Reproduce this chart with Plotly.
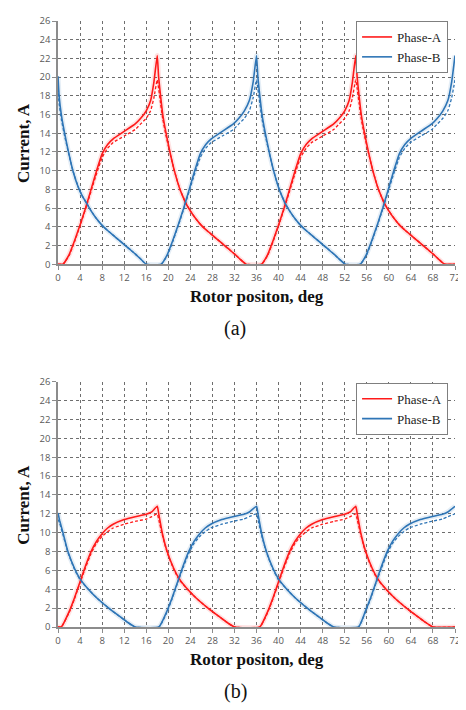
import plotly.graph_objects as go

# ---------------- data ----------------
# (a) top chart
TOP_A_X = [0, 0.9, 2, 3, 4, 5, 6, 7, 8, 9, 10, 12, 14, 15, 16, 16.8, 17.4, 18, 18.25, 18.6, 19.0, 19.6, 20.3, 21.1,
           22.0, 22.6, 23.2, 24, 25, 26, 27, 28, 29, 30, 31, 32, 33, 34.1,
           36.9, 38, 39, 40, 41, 42, 43, 44, 45, 46, 48, 50, 51, 52, 52.8, 53.4, 54, 54.25, 54.6, 55.0, 55.6, 56.3,
           57.1, 58.0, 58.6, 59.2, 60, 61, 62, 63, 64, 65, 66, 67, 68, 69, 70.1, 72]
TOP_A_SOLID = [0, 0, 1, 2.5, 4.2, 6, 8, 10, 11.8, 12.8, 13.4, 14.2, 15.0, 15.6, 16.4, 17.5, 19.5, 22.3, 20, 18, 16, 14, 12, 10,
               8.2, 7.3, 6.5, 5.7, 4.85, 4.15, 3.6, 3.1, 2.6, 2.1, 1.6, 1.1, 0.55, 0,
               0, 1, 2.5, 4.2, 6, 8, 10, 11.8, 12.8, 13.4, 14.2, 15.0, 15.6, 16.4, 17.5, 19.5, 22.3, 20, 18, 16, 14, 12,
               10, 8.2, 7.3, 6.5, 5.7, 4.85, 4.15, 3.6, 3.1, 2.6, 2.1, 1.6, 1.1, 0.55, 0, 0]
TOP_A_DASH = [0, 0, 0.9, 2.4, 4.1, 5.9, 7.8, 9.7, 11.4, 12.4, 13.0, 13.7, 14.4, 15.0, 15.6, 16.4, 17.8, 19.7, 18.8, 17.2, 15.5, 13.7, 11.9, 10,
              8.2, 7.3, 6.5, 5.7, 4.85, 4.15, 3.6, 3.1, 2.6, 2.1, 1.6, 1.1, 0.55, 0,
              0, 0.9, 2.4, 4.1, 5.9, 7.8, 9.7, 11.4, 12.4, 13.0, 13.7, 14.4, 15.0, 15.6, 16.4, 17.8, 19.7, 18.8, 17.2, 15.5, 13.7, 11.9,
              10, 8.2, 7.3, 6.5, 5.7, 4.85, 4.15, 3.6, 3.1, 2.6, 2.1, 1.6, 1.1, 0.55, 0, 0]

TOP_B_X = [0, 0.2, 0.6, 1.2, 1.9, 2.7, 3.7, 4.4, 5.2, 6, 7, 8, 9, 10, 11, 12, 13, 14, 15, 16,
           18.7, 19.8, 20.8, 21.8, 22.8, 23.8, 24.8, 25.8, 26.8, 27.8, 29.8, 31.8, 32.8, 33.8, 34.7, 35.4, 36,
           36.25, 36.6, 37.0, 37.6, 38.3, 39.1, 40.0, 40.6, 41.2, 42, 43, 44, 45, 46, 47, 48, 49, 50, 51, 52.1,
           54.8, 55.9, 56.9, 57.9, 58.9, 59.9, 60.9, 61.9, 62.9, 63.9, 65.8, 67.8, 68.8, 69.8, 70.7, 71.4, 72]
TOP_B_SOLID = [20.1, 18, 16, 14, 12, 10, 8.2, 7.3, 6.5, 5.7, 4.85, 4.15, 3.6, 3.1, 2.6, 2.1, 1.6, 1.1, 0.55, 0,
               0, 1, 2.5, 4.2, 6, 8, 10, 11.8, 12.8, 13.4, 14.2, 15.0, 15.6, 16.4, 17.5, 19.5, 22.3,
               20, 18, 16, 14, 12, 10, 8.2, 7.3, 6.5, 5.7, 4.85, 4.15, 3.6, 3.1, 2.6, 2.1, 1.6, 1.1, 0.55, 0,
               0, 1, 2.5, 4.2, 6, 8, 10, 11.8, 12.8, 13.4, 14.2, 15.0, 15.6, 16.4, 17.5, 19.5, 22.3]
TOP_B_DASH = [18.8, 17.2, 15.5, 13.7, 11.9, 10, 8.2, 7.3, 6.5, 5.7, 4.85, 4.15, 3.6, 3.1, 2.6, 2.1, 1.6, 1.1, 0.55, 0,
              0, 0.9, 2.4, 4.1, 5.9, 7.8, 9.7, 11.4, 12.4, 13.0, 13.7, 14.4, 15.0, 15.6, 16.4, 17.8, 19.7,
              18.8, 17.2, 15.5, 13.7, 11.9, 10, 8.2, 7.3, 6.5, 5.7, 4.85, 4.15, 3.6, 3.1, 2.6, 2.1, 1.6, 1.1, 0.55, 0,
              0, 0.9, 2.4, 4.1, 5.9, 7.8, 9.7, 11.4, 12.4, 13.0, 13.7, 14.4, 15.0, 15.6, 16.4, 17.8, 19.7]

# (b) bottom chart
BOT_A_X = [0, 0.6, 2, 3, 4, 5, 6, 7, 8, 9, 10, 12, 14, 16, 17, 18, 18.3, 18.9, 19.8, 21, 22, 23.5, 25, 27.2, 29, 30.5, 32,
           36.6, 38, 39, 40, 41, 42, 43, 44, 45, 46, 48, 50, 52, 53, 54, 54.3, 54.9, 55.8, 57, 58, 59.5, 61, 63.2, 65, 66.5, 68, 72]
BOT_A_SOLID = [0, 0, 1.6, 3.1, 4.8, 6.5, 8, 9.1, 9.9, 10.5, 10.9, 11.4, 11.7, 11.95, 12.2, 12.8, 11.9, 10, 8, 6.2, 5.1, 4, 3.1, 2, 1.2, 0.55, 0,
               0, 1.6, 3.1, 4.8, 6.5, 8, 9.1, 9.9, 10.5, 10.9, 11.4, 11.7, 11.95, 12.2, 12.8, 11.9, 10, 8, 6.2, 5.1, 4, 3.1, 2, 1.2, 0.55, 0, 0]
BOT_A_DASH = [0, 0, 1.5, 3.0, 4.7, 6.3, 7.8, 8.9, 9.6, 10.1, 10.5, 10.9, 11.2, 11.45, 11.7, 12.0, 11.3, 9.8, 7.9, 6.1, 5.0, 4.0, 3.1, 2.0, 1.2, 0.55, 0,
              0, 1.5, 3.0, 4.7, 6.3, 7.8, 8.9, 9.6, 10.1, 10.5, 10.9, 11.2, 11.45, 11.7, 12.0, 11.3, 9.8, 7.9, 6.1, 5.0, 4.0, 3.1, 2.0, 1.2, 0.55, 0, 0]

BOT_B_X = [0, 0.3, 0.9, 1.8, 3, 4, 5.5, 7, 9.2, 11, 12.5, 14,
           18.3, 19.7, 20.7, 21.7, 22.7, 23.7, 24.7, 25.7, 26.7, 27.7, 29.7, 31.7, 33.7, 34.7, 36,
           36.3, 36.9, 37.8, 39, 40, 41.5, 43, 45.2, 47, 48.5, 50,
           54.5, 55.7, 56.7, 57.7, 58.7, 59.7, 60.7, 61.7, 62.7, 63.7, 65.7, 67.7, 69.7, 70.7, 72]
BOT_B_SOLID = [12.1, 11.3, 10, 8, 6.2, 5.1, 4, 3.1, 2, 1.2, 0.55, 0,
               0, 1.6, 3.1, 4.8, 6.5, 8, 9.1, 9.9, 10.5, 10.9, 11.4, 11.7, 11.95, 12.2, 12.8,
               11.9, 10, 8, 6.2, 5.1, 4, 3.1, 2, 1.2, 0.55, 0,
               0, 1.6, 3.1, 4.8, 6.5, 8, 9.1, 9.9, 10.5, 10.9, 11.4, 11.7, 11.95, 12.2, 12.8]
BOT_B_DASH = [11.4, 11.0, 9.8, 7.9, 6.1, 5.0, 4.0, 3.1, 2.0, 1.2, 0.55, 0,
              0, 1.5, 3.0, 4.7, 6.3, 7.8, 8.9, 9.6, 10.1, 10.5, 10.9, 11.2, 11.45, 11.7, 12.0,
              11.3, 9.8, 7.9, 6.1, 5.0, 4.0, 3.1, 2.0, 1.2, 0.55, 0,
              0, 1.5, 3.0, 4.7, 6.3, 7.8, 8.9, 9.6, 10.1, 10.5, 10.9, 11.2, 11.45, 11.7, 12.0]

X_TICKS = list(range(0, 73, 4))
Y_TICKS = list(range(0, 27, 2))
SERIES_NAMES = ["Phase-A", "Phase-B"]
PANEL_LABELS = ["(a)", "(b)"]
X_TITLE = "Rotor positon, deg"
Y_TITLE = "Current, A"

# ---------------- styling ----------------
RED = "#ff1a1a"
BLUE = "#2e75b6"
OFF = 8                    # page body margin of the html page
W, H = 466 - OFF, 710 - OFF
ML, MR, MT, MB = 58 - OFF, 7, 14 - OFF, 83
PW = W - ML - MR
PH = H - MT - MB


def py(px):
    """page pixel y (from top) -> paper fraction"""
    return (H - MB - (px - OFF)) / PH


def pxx(px):
    """page pixel x -> paper fraction"""
    return (px - OFF - ML) / PW


fig = go.Figure()


def add_panel(xa, ya, legend, ax, a_s, a_d, bx, b_s, b_d):
    for x, y, c in [(ax, a_s, RED), (bx, b_s, BLUE)]:
        fig.add_trace(go.Scatter(x=x, y=y, mode="lines", xaxis=xa, yaxis=ya,
                                 line=dict(color=c, width=5, shape="spline", smoothing=0.4), opacity=0.12,
                                 showlegend=False, hoverinfo="skip"))
    for x, y, c in [(ax, a_d, RED), (bx, b_d, BLUE)]:
        fig.add_trace(go.Scatter(x=x, y=y, mode="lines", xaxis=xa, yaxis=ya,
                                 line=dict(color=c, width=1.3, dash="3px,2px", shape="spline", smoothing=0.4),
                                 showlegend=False, hoverinfo="skip"))
    for x, y, c, name in [(ax, a_s, RED, SERIES_NAMES[0]), (bx, b_s, BLUE, SERIES_NAMES[1])]:
        fig.add_trace(go.Scatter(x=x, y=y, mode="lines", xaxis=xa, yaxis=ya, name=name,
                                 line=dict(color=c, width=1.6, shape="spline", smoothing=0.4), legend=legend))


add_panel("x", "y", "legend", TOP_A_X, TOP_A_SOLID, TOP_A_DASH, TOP_B_X, TOP_B_SOLID, TOP_B_DASH)
add_panel("x2", "y2", "legend2", BOT_A_X, BOT_A_SOLID, BOT_A_DASH, BOT_B_X, BOT_B_SOLID, BOT_B_DASH)

tickfont = dict(family="Open Sans, Lato, sans-serif", size=9.5, color="#595959")
xcommon = dict(range=[0, 72], tickvals=X_TICKS, showgrid=True, gridcolor="#6e6e6e", griddash="dot", gridwidth=1,
               showline=True, linecolor="#8c8c8c", linewidth=1.5, ticks="outside", ticklen=4, tickcolor="#8c8c8c",
               tickfont=tickfont, zeroline=False, fixedrange=True)
ycommon = dict(range=[0, 26], tickvals=Y_TICKS, showgrid=True, gridcolor="#6e6e6e", griddash="dot", gridwidth=1,
               showline=True, linecolor="#8c8c8c", linewidth=1.5, ticks="outside", ticklen=4, tickcolor="#8c8c8c",
               tickfont=tickfont, zeroline=False, fixedrange=True)

top_dom = [py(260), 1.0]
bot_dom = [0.0, py(379)]

legend_style = dict(font=dict(family="Liberation Serif, Times New Roman, serif", size=13, color="#222"),
                    bgcolor="white", bordercolor="#7f7f7f", borderwidth=1,
                    xanchor="right", yanchor="top", x=pxx(452),
                    tracegroupgap=0, itemwidth=30)

fig.update_layout(
    width=W, height=H,
    margin=dict(l=ML, r=MR, t=MT, b=MB, pad=0),
    paper_bgcolor="white", plot_bgcolor="white",
    xaxis=dict(domain=[0, 1], anchor="y", **xcommon),
    yaxis=dict(domain=top_dom, anchor="x", **ycommon),
    xaxis2=dict(domain=[0, 1], anchor="y2", **xcommon),
    yaxis2=dict(domain=bot_dom, anchor="x2", **ycommon),
    legend=dict(y=py(14), **legend_style),
    legend2=dict(y=py(380), **legend_style),
)

title_font = dict(family="Liberation Serif, Times New Roman, serif", size=17, color="#111")
label_font = dict(family="Liberation Serif, Times New Roman, serif", size=20, color="#111")
for i, (ybot, ytop) in enumerate([(260, 14), (627, 379)]):
    fig.add_annotation(text="<b>%s</b>" % X_TITLE, xref="paper", yref="paper", x=0.5, y=py(ybot + 33),
                       xanchor="center", yanchor="middle", showarrow=False, font=title_font)
    fig.add_annotation(text="<b>%s</b>" % Y_TITLE, xref="paper", yref="paper", x=pxx(23),
                       y=py((ybot + ytop) / 2), xanchor="center", yanchor="middle", textangle=-90,
                       showarrow=False, font=title_font)
    fig.add_annotation(text=PANEL_LABELS[i], xref="paper", yref="paper", x=pxx(237),
                       y=py(ybot + 65), xanchor="center", yanchor="middle", showarrow=False, font=label_font)

fig.write_html("out.html")
